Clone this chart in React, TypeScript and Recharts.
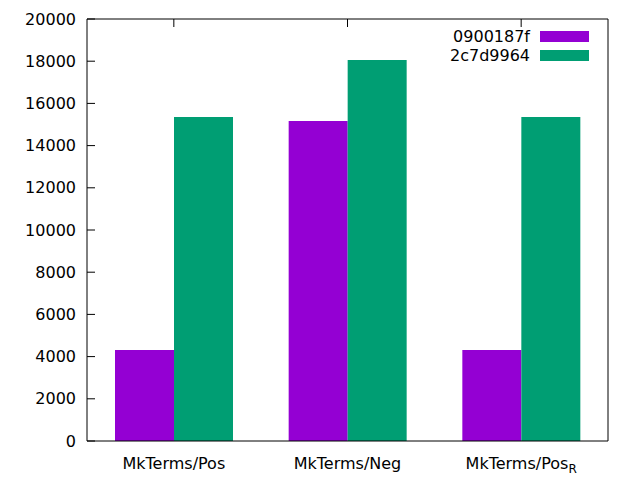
import { BarChart, Bar, XAxis, YAxis, Legend, ReferenceLine, ReferenceDot } from "recharts"

const categories = ["MkTerms/Pos", "MkTerms/Neg", "MkTerms/Pos_R"]
const seriesA = [4310, 15170, 4310]
const seriesB = [15350, 18060, 15350]
const yTicks = [0, 2000, 4000, 6000, 8000, 10000, 12000, 14000, 16000, 18000, 20000]
const yMax = 20000

const seriesNames = ["0900187f", "2c7d9964"]
const colors = ["#9400d3", "#009e73"]

const data = categories.map((name, i) => ({
  name,
  a: seriesA[i],
  b: seriesB[i],
}))

const FONT = "DejaVu Sans, sans-serif"
const TICK = 8

const LeftTick = ({ x, y, payload }: any) => (
  <g>
    <line x1={x} y1={y} x2={x + TICK} y2={y} stroke="#000" />
    <text x={x - 11} y={y} dy={5.5} textAnchor="end" fontFamily={FONT} fontSize={16} fill="#000">
      {payload.value}
    </text>
  </g>
)

const RightTick = ({ x, y }: any) => (
  <line x1={x} y1={y} x2={x - TICK} y2={y} stroke="#000" />
)

const BottomTick = ({ x, y, payload }: any) => {
  const [main, sub] = String(payload.value).split("_")
  return (
    <text x={x} y={y + 26} textAnchor="middle" fontFamily={FONT} fontSize={16} fill="#000">
      {main}
      {sub && (
        <tspan fontSize={12} dy={4}>
          {sub}
        </tspan>
      )}
    </text>
  )
}

// top mirror tick: short line from the top border downward
const TopTickShape = ({ cx, cy }: any) => (
  <line x1={cx} y1={cy} x2={cx} y2={cy + TICK} stroke="#000" />
)

const LegendBox = () => (
  <div style={{ fontFamily: FONT, fontSize: 16 }}>
    {seriesNames.map((n, i) => (
      <div key={n} style={{ display: "flex", alignItems: "center", justifyContent: "flex-end", height: 19 }}>
        <span style={{ marginRight: 10 }}>{n}</span>
        <span style={{ display: "inline-block", width: 49, height: 11, background: colors[i] }} />
      </div>
    ))}
  </div>
)

export default function App() {
  return (
    <div style={{ position: "absolute", left: 0, top: 0, background: "#fff" }}>
      <BarChart
        width={640}
        height={480}
        data={data}
        margin={{ top: 19, right: 0, left: 0, bottom: 0 }}
        barCategoryGap={28}
        barGap={0}
      >
        <XAxis
          dataKey="name"
          height={39}
          axisLine={{ stroke: "#000" }}
          tickLine={false}
          tickSize={0}
          tick={<BottomTick />}
          interval={0}
        />
        <YAxis
          yAxisId="left"
          width={87}
          domain={[0, yMax]}
          ticks={yTicks}
          interval={0}
          axisLine={{ stroke: "#000" }}
          tickLine={false}
          tickSize={0}
          tickMargin={0}
          tick={<LeftTick />}
        />
        <YAxis
          yAxisId="right"
          orientation="right"
          width={32}
          domain={[0, yMax]}
          ticks={yTicks}
          interval={0}
          axisLine={{ stroke: "#000" }}
          tickLine={false}
          tickSize={0}
          tickMargin={0}
          tick={<RightTick />}
        />
        <Legend
          layout="horizontal"
          verticalAlign="middle"
          align="center"
          content={<LegendBox />}
          wrapperStyle={{ position: "absolute", top: 27, left: 389, width: 200 }}
        />
        <Bar dataKey="a" name={seriesNames[0]} fill={colors[0]} yAxisId="left" isAnimationActive={false} />
        <Bar dataKey="b" name={seriesNames[1]} fill={colors[1]} yAxisId="left" isAnimationActive={false} />
        <ReferenceLine y={yMax} yAxisId="left" stroke="#000" strokeWidth={1} />
        {categories.map((c) => (
          <ReferenceDot
            key={c}
            x={c}
            y={yMax}
            yAxisId="left"
            r={1}
            shape={<TopTickShape />}
          />
        ))}
      </BarChart>
    </div>
  )
}
